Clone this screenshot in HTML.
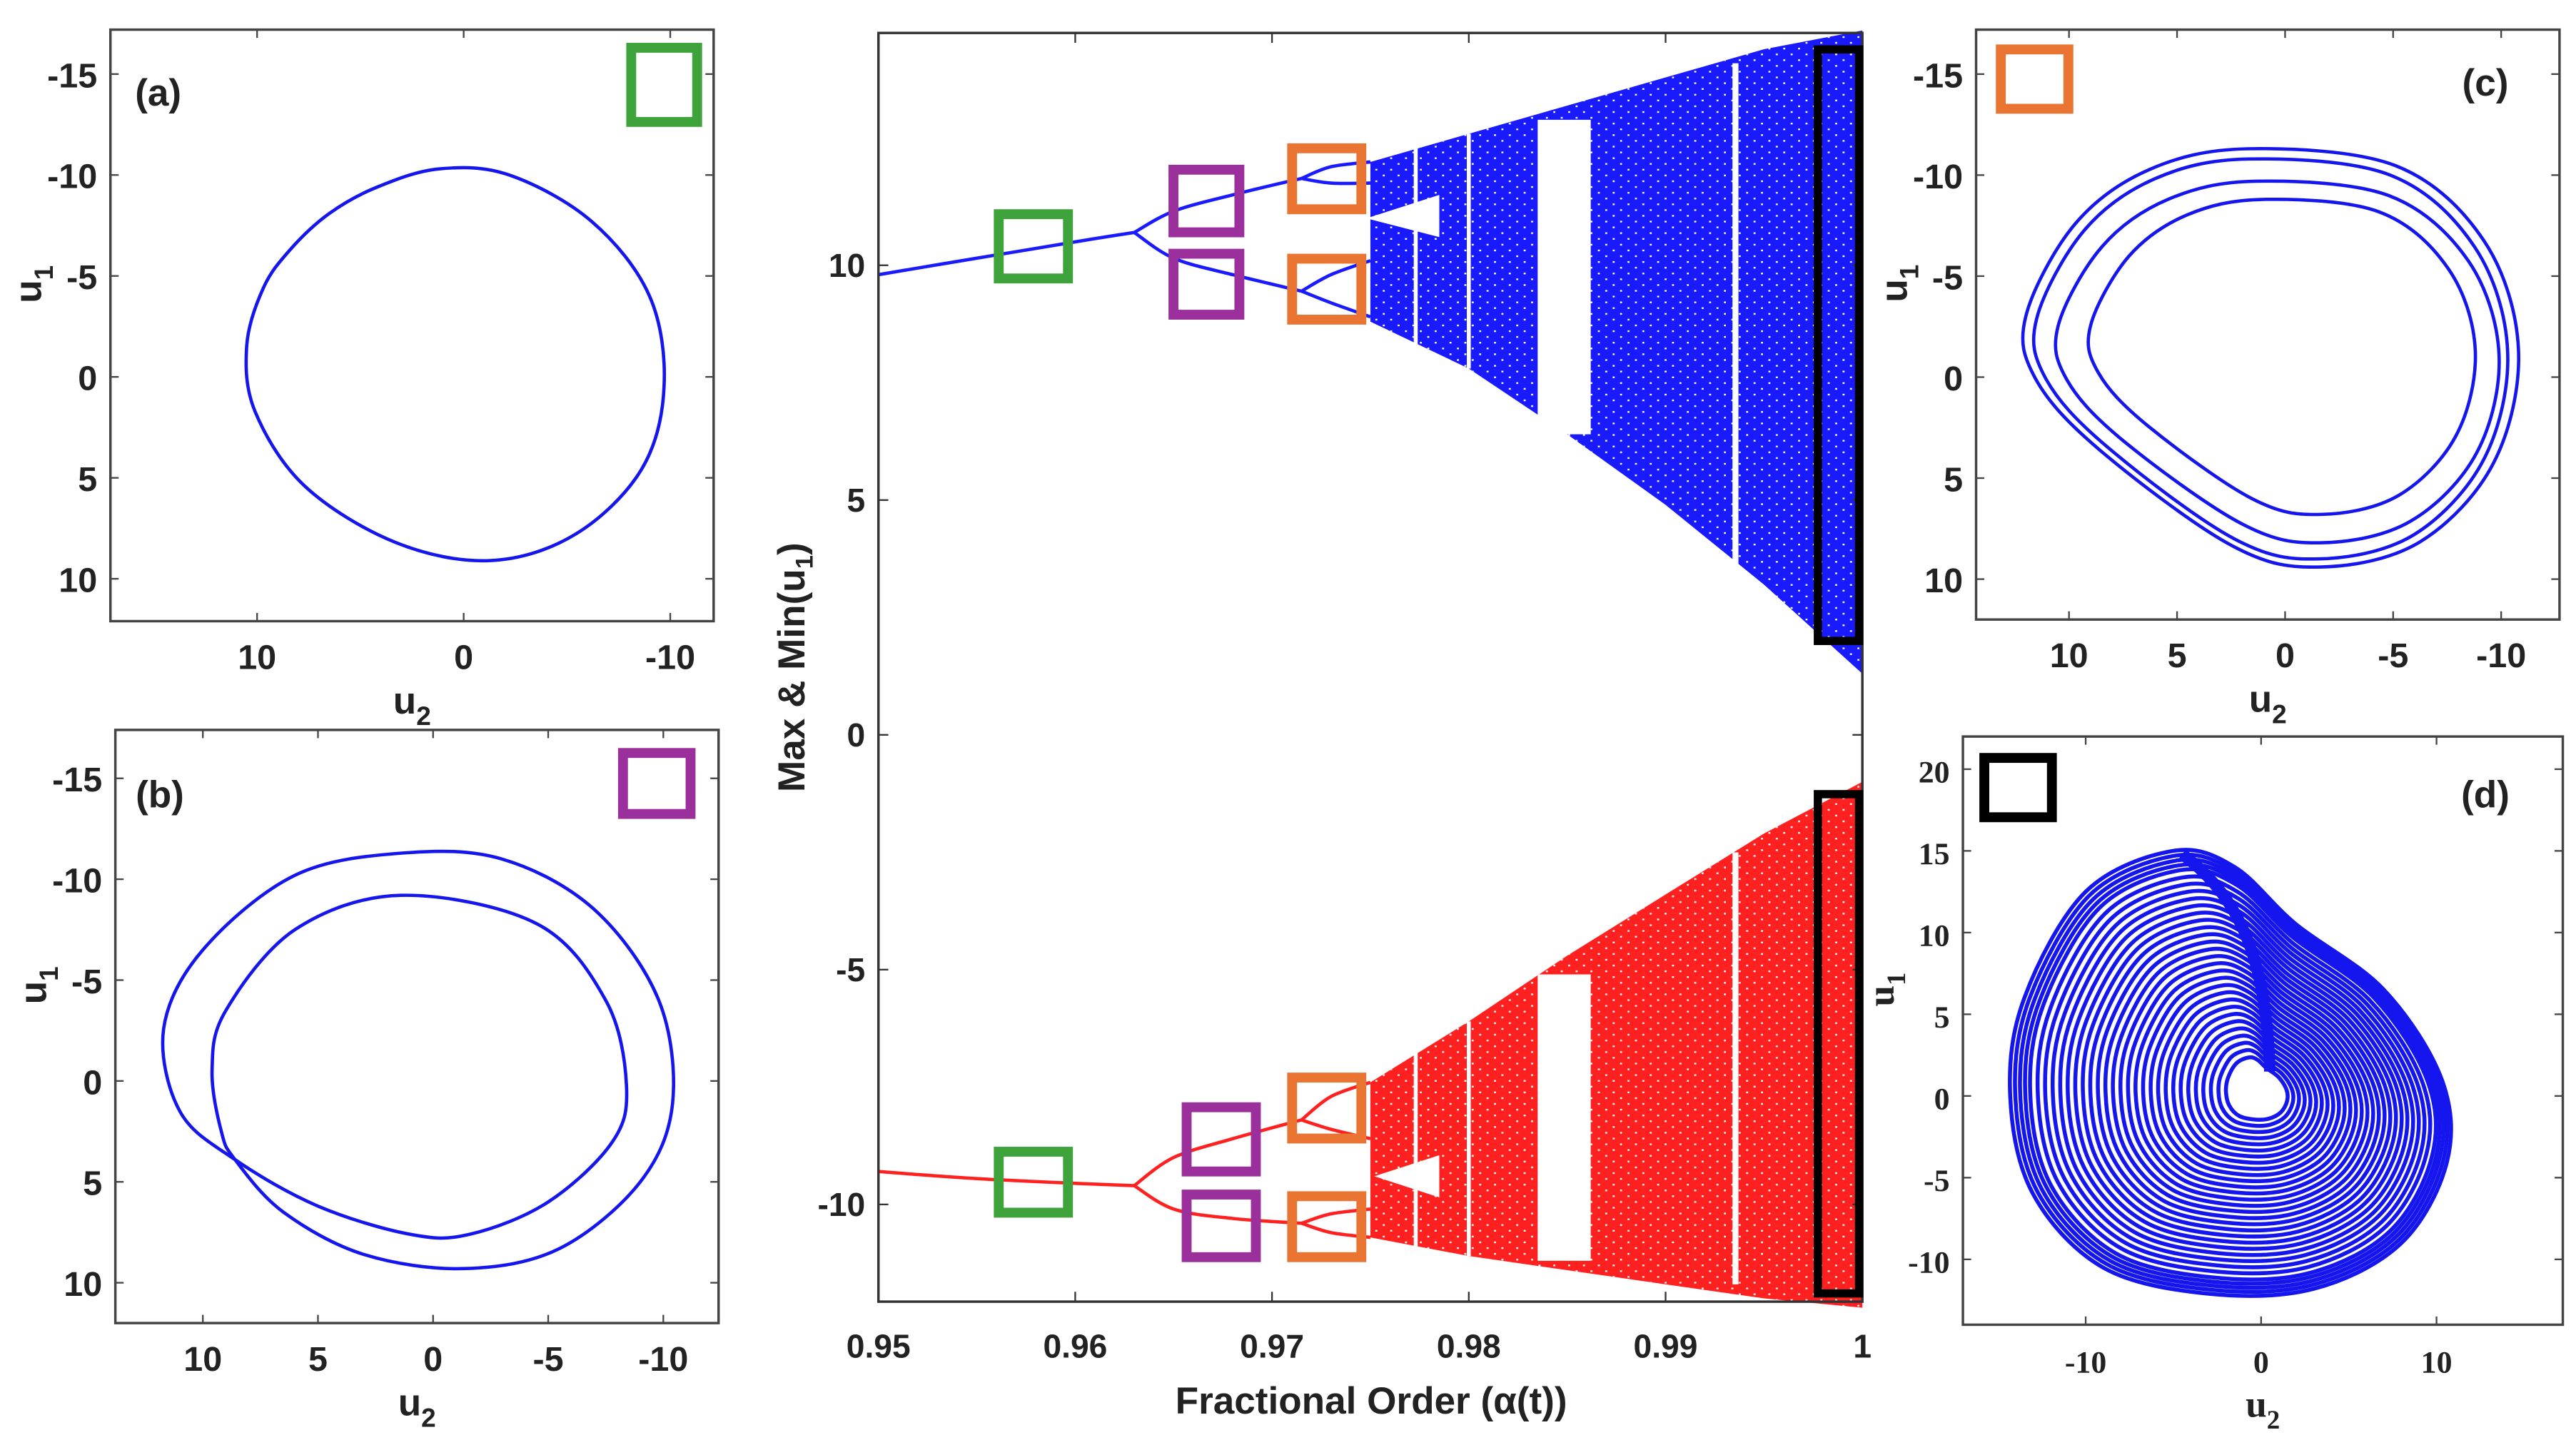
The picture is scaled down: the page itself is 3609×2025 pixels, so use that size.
<!DOCTYPE html>
<html><head><meta charset="utf-8">
<style>
html,body{margin:0;padding:0;background:#fff;}
svg{display:block;}
.tk{font-family:"Liberation Sans Narrow","Liberation Sans",sans-serif;font-weight:bold;font-size:21px;fill:#222;}
.tkc{font-family:"Liberation Sans",sans-serif;font-weight:bold;font-size:20px;fill:#222;}
.tks{font-family:"Liberation Serif",serif;font-weight:bold;font-size:19px;fill:#222;}
.lab{font-family:"Liberation Sans",sans-serif;font-weight:bold;font-size:23px;fill:#222;}
</style></head>
<body>
<svg id="fig" width="3609" height="2025" viewBox="0 0 1563 877" preserveAspectRatio="none" xmlns="http://www.w3.org/2000/svg">
<defs>
<pattern id="speck" width="9" height="7" patternUnits="userSpaceOnUse">
<rect x="2" y="1" width="1.2" height="1" fill="#fff"/><rect x="6.5" y="4.5" width="1.2" height="1" fill="#fff"/>
</pattern>
</defs>
</svg>
<script>
// ---------- data: bifurcation diagram ----------
const alphaTicks = [0.95,0.96,0.97,0.98,0.99,1];
const alphaTickLabels = ["0.95","0.96","0.97","0.98","0.99","1"];
const bifYTicks = [10,5,0,-5,-10];
const maxPeriodLines = [
 [[0.95,9.8],[0.955,10.15],[0.96,10.5],[0.963,10.7]],
 [[0.963,10.7],[0.965,11.15],[0.968,11.5],[0.9715,11.85]],
 [[0.9715,11.85],[0.973,12.1],[0.975,12.2]],
 [[0.9715,11.85],[0.973,11.75],[0.975,11.75]],
 [[0.963,10.7],[0.965,10.15],[0.968,9.8],[0.9715,9.45]],
 [[0.9715,9.45],[0.973,9.8],[0.975,10.1]],
 [[0.9715,9.45],[0.973,9.2],[0.975,8.9]]
];
const minPeriodLines = [
 [[0.95,-9.3],[0.955,-9.45],[0.96,-9.55],[0.963,-9.6]],
 [[0.963,-9.6],[0.965,-9.0],[0.968,-8.6],[0.9715,-8.2]],
 [[0.9715,-8.2],[0.973,-7.7],[0.975,-7.4]],
 [[0.9715,-8.2],[0.973,-8.4],[0.975,-8.6]],
 [[0.963,-9.6],[0.965,-10.1],[0.968,-10.3],[0.9715,-10.4]],
 [[0.9715,-10.4],[0.973,-10.2],[0.975,-10.1]],
 [[0.9715,-10.4],[0.973,-10.6],[0.975,-10.7]]
];
const bandAlpha = [0.975,0.98,0.985,0.99,0.995,1.0];
const maxBandTop = [12.2,12.8,13.4,14.0,14.6,15.0];
const maxBandBottom = [8.8,7.8,6.4,4.9,3.2,1.3];
const minBandTop = [-7.4,-6.1,-4.7,-3.4,-2.1,-1.0];
const minBandBottom = [-10.7,-11.1,-11.4,-11.7,-12.0,-12.2];
const maxGaps = [
 [[0.9748,11.0],[0.9785,11.5],[0.9785,10.6]],
 [[0.9835,13.1],[0.9862,13.1],[0.9862,6.4],[0.9835,6.4]],
 [[0.9934,14.3],[0.9937,14.3],[0.9937,3.5],[0.9934,3.5]],
 [[0.9772,12.6],[0.9774,12.6],[0.9774,7.8],[0.9772,7.8]],
 [[0.9799,12.8],[0.9801,12.8],[0.9801,7.8],[0.9799,7.8]]
];
const minGaps = [
 [[0.9752,-9.4],[0.9785,-8.95],[0.9785,-9.85]],
 [[0.9835,-5.1],[0.9862,-5.1],[0.9862,-11.2],[0.9835,-11.2]],
 [[0.9934,-2.5],[0.9937,-2.5],[0.9937,-11.7],[0.9934,-11.7]],
 [[0.9772,-6.0],[0.9774,-6.0],[0.9774,-11.0],[0.9772,-11.0]],
 [[0.9799,-6.1],[0.9801,-6.1],[0.9801,-11.1],[0.9799,-11.1]]
];
// ---------- data: phase portraits ----------
const orbitA = [[1.2,-10.3],[4.2,-9.4],[6.5,-8.1],[8.4,-6.3],[9.7,-4.4],[10.5,-1.55],[10.1,1.7],[7.7,5.4],[3.3,8.2],[-1.3,9.1],[-5.4,7.8],[-8.6,4.6],[-9.7,0.5],[-9.0,-4.0],[-6.2,-7.7],[-2.2,-10.0]];
const orbitB = [[1.3,-11.3],[6,-10.2],[10,-6.5],[11.7,-2.6],[11,1.5],[8.6,3.9],[5,6.2],[1,7.6],[-1.6,7.6],[-5,6],[-7.8,3],[-8.4,0.2],[-7.5,-4],[-4.5,-7.8],[1.4,-9.2],[6,-7.5],[9,-3.5],[9.6,-0.6],[9.2,2.5],[8.6,3.9],[6.5,6.5],[3,8.6],[-1.4,9.3],[-5.5,8.3],[-9,5],[-10.4,1.1],[-9.8,-4],[-7,-8.5],[-3,-11]];
const loopTopsC = [-11.3,-10.8,-9.7,-8.8];
const loopBottomsC = [9.4,9.0,8.2,6.8];
const loopLeftsC = [12,11.5,10.5,9];
const loopRightsC = [-10.8,-10.3,-9.9,-8.8];
const outerD = [[-5,15],[-10,12.5],[-13.5,6],[-14.3,0],[-13,-6],[-9,-10.5],[-3,-12.1],[3,-11.8],[8,-9],[10.6,-4],[10.3,1],[7,6.5],[2,10.5],[-1.5,14]];
const loopScalesD = [1,0.98,0.96,0.94,0.92,0.89,0.86,0.83,0.8,0.77,0.74,0.71,0.68,0.65,0.62,0.59,0.56,0.53,0.5,0.47,0.44,0.41,0.38,0.35,0.32,0.29,0.26,0.23,0.2,0.17,0.14];

const NS="http://www.w3.org/2000/svg";
const svg=document.getElementById('fig');
function mk(tag,attrs,parent){const e=document.createElementNS(NS,tag);for(const k in attrs)e.setAttribute(k,attrs[k]);(parent||svg).appendChild(e);return e;}
function txt(s,x,y,cls,anchor,parent){const t=mk('text',{x:x,y:y,class:cls,'text-anchor':anchor||'middle'},parent);t.textContent=s;return t;}
function spline(pts,closed){
  const n=pts.length;let d='M'+pts[0][0].toFixed(1)+','+pts[0][1].toFixed(1);
  const g=i=>closed?pts[(i+n)%n]:pts[Math.max(0,Math.min(n-1,i))];
  const m=closed?n:n-1;
  for(let i=0;i<m;i++){const p0=g(i-1),p1=g(i),p2=g(i+1),p3=g(i+2);
    d+='C'+(p1[0]+(p2[0]-p0[0])/6).toFixed(1)+','+(p1[1]+(p2[1]-p0[1])/6).toFixed(1)+' '+(p2[0]-(p3[0]-p1[0])/6).toFixed(1)+','+(p2[1]-(p3[1]-p1[1])/6).toFixed(1)+' '+p2[0].toFixed(1)+','+p2[1].toFixed(1);}
  return d+(closed?'Z':'');
}
function box(x1,y1,x2,y2,col,w,name){const r=mk('rect',{x:x1,y:y1,width:x2-x1,height:y2-y1,fill:'none',stroke:col,'stroke-width':w});}

// ---------- center bifurcation ----------
const CX0=533,CX1=1130,CY0=20,CY1=790;
const X=a=>CX0+(a-0.95)/0.05*(CX1-CX0);
const Y=v=>446-v*28.5;
const gB=mk('g',{});
function poly(arr,fill,name){const p=mk('polygon',{points:arr.map(q=>X(q[0]).toFixed(1)+','+Y(q[1]).toFixed(1)).join(' '),fill:fill},gB);return p;}
function band(top,bot,col,name){const a=[];for(let i=0;i<bandAlpha.length;i++)a.push([bandAlpha[i],top[i]]);for(let i=bandAlpha.length-1;i>=0;i--)a.push([bandAlpha[i],bot[i]]);poly(a,col,name);poly(a,'url(#speck)',name+'-texture');}
band(maxBandTop,maxBandBottom,'#1a1aff','max-chaotic-band');
band(minBandTop,minBandBottom,'#ff2020','min-chaotic-band');
maxGaps.forEach(g=>poly(g,'#fff','max-periodic-window'));
minGaps.forEach(g=>poly(g,'#fff','min-periodic-window'));
function lines(arr,col,name){arr.forEach(l=>{const p=mk('path',{d:spline(l.map(q=>[X(q[0]),Y(q[1])]),false),fill:'none',stroke:col,'stroke-width':2},gB);});}
lines(maxPeriodLines,'#1a1aff','max-branch');
lines(minPeriodLines,'#ff2020','min-branch');
mk('rect',{x:CX0,y:CY0,width:CX1-CX0,height:CY1-CY0,fill:'none',stroke:'#333','stroke-width':1.5},gB);
alphaTicks.forEach((a,i)=>{mk('line',{x1:X(a),x2:X(a),y1:CY1,y2:CY1-6,stroke:'#333'},gB);mk('line',{x1:X(a),x2:X(a),y1:CY0,y2:CY0+6,stroke:'#333'},gB);const t=txt(alphaTickLabels[i],X(a),824,'tkc','middle',gB);});
bifYTicks.forEach(v=>{mk('line',{x1:CX0,x2:CX0+6,y1:Y(v),y2:Y(v),stroke:'#333'},gB);mk('line',{x1:CX1,x2:CX1-6,y1:Y(v),y2:Y(v),stroke:'#333'},gB);const t=txt(String(v),CX0-8,Y(v)+7,'tkc','end',gB);});
const xl=txt('Fractional  Order  (α(t))',832,858,'lab','middle',gB);
const yl=mk('text',{x:0,y:0,class:'lab','text-anchor':'middle',transform:'translate(488,405) rotate(-90)'},gB);yl.innerHTML='Max  &amp;  Min(u<tspan font-size="15" dy="5">1</tspan><tspan dy="-5">)</tspan>';

// annotation boxes
box(606,130,648,169,'#3da33a',6,'green-marker-max');
box(712,103,752,141,'#9b2f9b',6,'purple-marker-max-1');
box(712,154,752,191,'#9b2f9b',6,'purple-marker-max-2');
box(784,90,826,127,'#ea7432',6,'orange-marker-max-1');
box(784,157,826,194,'#ea7432',6,'orange-marker-max-2');
box(606,699,648,736,'#3da33a',6,'green-marker-min');
box(720,672,762,711,'#9b2f9b',6,'purple-marker-min-1');
box(720,725,762,763,'#9b2f9b',6,'purple-marker-min-2');
box(784,654,826,691,'#ea7432',6,'orange-marker-min-1');
box(784,726,826,763,'#ea7432',6,'orange-marker-min-2');
box(1103,30,1128,389,'#000',5,'black-marker-max');
box(1103,482,1128,785,'#000',5,'black-marker-min');

// ---------- side panels ----------
function panel(o){
  const g=mk('g',{});
  const px=u=>o.l+(u-o.xl)/(o.xr-o.xl)*(o.r-o.l);
  const py=u=>o.t+(u-o.yt)/(o.yb-o.yt)*(o.b-o.t);
  o.draw(g,px,py);
  mk('rect',{x:o.l,y:o.t,width:o.r-o.l,height:o.b-o.t,fill:'none',stroke:'#444','stroke-width':1.5},g);
  o.xt.forEach(v=>{mk('line',{x1:px(v),x2:px(v),y1:o.b,y2:o.b-5,stroke:'#444'},g);mk('line',{x1:px(v),x2:px(v),y1:o.t,y2:o.t+5,stroke:'#444'},g);const t=txt(String(v),px(v),o.b+29,o.cls,'middle',g);});
  o.yt2.forEach(v=>{mk('line',{x1:o.l,x2:o.l+5,y1:py(v),y2:py(v),stroke:'#444'},g);mk('line',{x1:o.r,x2:o.r-5,y1:py(v),y2:py(v),stroke:'#444'},g);const t=txt(String(v),o.l-8,py(v)+8,o.cls,'end',g);});
  const fam=o.cls==='tks'?'font-family:"Liberation Serif",serif':'';
  const xa=mk('text',{x:(o.l+o.r)/2,y:o.b+56,class:'lab','text-anchor':'middle',style:fam},g);xa.innerHTML='u<tspan font-size="16" dy="7">2</tspan>';
  const ya=mk('text',{x:0,y:0,class:'lab','text-anchor':'middle',style:fam,transform:'translate('+(o.l-42)+','+((o.t+o.b)/2-25)+') rotate(-90)'},g);ya.innerHTML='u<tspan font-size="16" dy="7">1</tspan>';
  const pl=txt(o.label,o.lx,o.ly,'lab','middle',g);
}
function orbit(g,pts,px,py,w,name){const p=mk('path',{d:spline(pts.map(q=>[px(q[0]),py(q[1])]),true),fill:'none',stroke:'#1515ee','stroke-width':w},g);}

panel({name:'panel-a',l:67,r:433,t:18,b:377,xl:17.1,xr:-12.1,yt:-17.2,yb:12.1,xt:[10,0,-10],yt2:[-15,-10,-5,0,5,10],cls:'tk',label:'(a)',lx:96,ly:64,
  draw:(g,px,py)=>orbit(g,orbitA,px,py,2,'period-1-orbit')});
panel({name:'panel-b',l:70,r:436,t:443,b:803,xl:13.8,xr:-12.4,yt:-17.4,yb:12.0,xt:[10,5,0,-5,-10],yt2:[-15,-10,-5,0,5,10],cls:'tk',label:'(b)',lx:97,ly:490,
  draw:(g,px,py)=>orbit(g,orbitB,px,py,2,'period-2-orbit')});
const tmpl=[[0.45,0],[0.75,0.04],[0.93,0.22],[1,0.48],[0.95,0.75],[0.8,0.94],[0.6,1],[0.42,0.95],[0.15,0.72],[0.02,0.55],[0,0.4],[0.1,0.18],[0.25,0.05]];
panel({name:'panel-c',l:1199,r:1553,t:18,b:376,xl:14.3,xr:-12.7,yt:-17.2,yb:12.0,xt:[10,5,0,-5,-10],yt2:[-15,-10,-5,0,5,10],cls:'tk',label:'(c)',lx:1508,ly:58,
  draw:(g,px,py)=>{for(let i=0;i<loopTopsC.length;i++){const pts=tmpl.map(q=>[loopLeftsC[i]+q[0]*(loopRightsC[i]-loopLeftsC[i]),loopTopsC[i]+q[1]*(loopBottomsC[i]-loopTopsC[i])]);orbit(g,pts,px,py,2,'period-4-loop');}}});
panel({name:'panel-d',l:1191,r:1555,t:447,b:804,xl:-17,xr:17.2,yt:22,yb:-14,xt:[-10,0,10],yt2:[20,15,10,5,0,-5,-10],cls:'tks',label:'(d)',lx:1508,ly:490,
  draw:(g,px,py)=>{loopScalesD.forEach(s=>{const pts=outerD.map(q=>[q[0]*s,0.3+(q[1]-0.3)*s]);orbit(g,pts,px,py,2.4,'chaotic-loop');});
    const v=mk('path',{d:'M'+px(-4.5)+','+py(14.8)+' C'+px(-1)+','+py(12)+' '+px(0.3)+','+py(8)+' '+px(0.5)+','+py(1.5),fill:'none',stroke:'#1515ee','stroke-width':7},g);}});
box(383,29,423,74,'#3da33a',6,'green-marker-a');
box(378,457,419,494,'#9b2f9b',6,'purple-marker-b');
box(1214,30,1255,66,'#ea7432',6,'orange-marker-c');
box(1204,460,1245,496,'#000',6,'black-marker-d');
</script>
</body></html>
